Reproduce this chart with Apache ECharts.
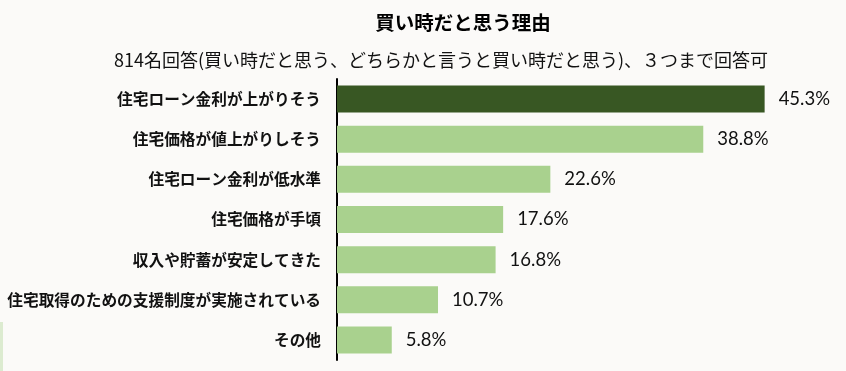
<!DOCTYPE html>
<html><head><meta charset="utf-8">
<script src="https://cdn.jsdelivr.net/npm/echarts@6/dist/echarts.min.js"></script>
<style>html,body{margin:0;padding:0;background:#fbfaf8;}#c{width:846px;height:371px;}</style>
</head><body><div id="c"></div>
<script>
const categories = ["住宅ローン金利が上がりそう","住宅価格が値上がりしそう","住宅ローン金利が低水準","住宅価格が手頃","収入や貯蓄が安定してきた","住宅取得のための支援制度が実施されている","その他"];
const values = [45.3, 38.8, 22.6, 17.6, 16.8, 10.7, 5.8];
const highlightIndex = 0;
const titleText = "買い時だと思う理由";
const subtitleText = "814名回答(買い時だと思う、どちらかと言うと買い時だと思う)、３つまで回答可";

const chart = echarts.init(document.getElementById('c'));
chart.setOption({
  backgroundColor: '#fbfaf8',
  animation: false,
  title: [
    {text: titleText, left: 458, top: 8, textAlign: 'center',
     textStyle: {fontFamily: 'Noto Sans CJK JP', fontWeight: 'bold', fontSize: 19.5, color: '#000'}},
    {text: subtitleText, left: 436, top: 46, textAlign: 'center',
     textStyle: {fontFamily: 'Noto Sans CJK JP', fontWeight: 'normal', fontSize: 18, color: '#111'}}
  ],
  graphic: [{type: 'rect', left: 0, top: 322, shape: {width: 3, height: 49}, style: {fill: '#dcebd0'}}],
  grid: {left: 337, top: 79, right: 37, bottom: 11},
  xAxis: {type: 'value', min: 0, max: 50, show: false},
  yAxis: {type: 'category', inverse: true, data: categories,
    axisLine: {show: true, lineStyle: {color: '#000', width: 2}},
    axisTick: {show: false},
    axisLabel: {margin: 16, fontFamily: 'Noto Sans CJK JP', fontWeight: 'bold', fontSize: 15.7, color: '#111'}
  },
  series: [{
    type: 'bar', barWidth: 27,
    data: values.map((v, i) => ({value: v, itemStyle: {color: i === highlightIndex ? '#385723' : '#a9d18e'}})),
    label: {show: true, position: 'right', distance: 14, formatter: p => p.value.toFixed(1) + '%',
      fontFamily: 'Lato', fontSize: 18.5, color: '#111'}
  }]
});
</script></body></html>
